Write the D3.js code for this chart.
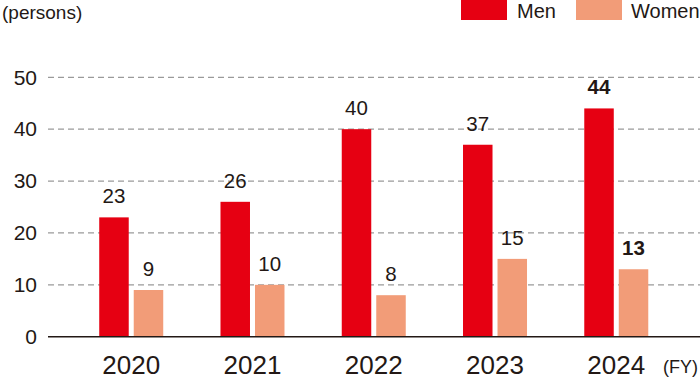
<!DOCTYPE html>
<meta charset="utf-8">
<script src="https://d3js.org/d3.v7.min.js"></script>
<style>
  body { margin: 0; background: #fff; }
  text { font-family: "Liberation Sans", Arial, sans-serif; fill: #231815; }
</style>
<div id="my_dataviz"></div>
<script>

// data
var years = ["2020", "2021", "2022", "2023", "2024"];
var men = [23, 26, 40, 37, 44];
var women = [9, 10, 8, 15, 13];
var yTicks = [0, 10, 20, 30, 40, 50];
var boldYear = "2024";

var width = 700, height = 387;

var svg = d3.select("#my_dataviz")
  .append("svg")
    .attr("width", width)
    .attr("height", height);

// scales
var x = d3.scaleBand()
  .domain(years)
  .range([70.6, 676.9])
  .paddingInner(0.5)
  .paddingOuter(0.25);

var y = d3.scaleLinear()
  .domain([0, 50])
  .range([336.7, 77.3]);

var barW = 29.5, gap = 5;

// grid lines
svg.append("g")
  .selectAll("line")
  .data(yTicks.filter(function(d) { return d > 0; }))
  .enter()
  .append("line")
    .attr("x1", 48)
    .attr("x2", 700)
    .attr("y1", function(d) { return y(d); })
    .attr("y2", function(d) { return y(d); })
    .attr("stroke", "#9a9a9a")
    .attr("stroke-width", 1.2)
    .attr("stroke-dasharray", "6,4");

// y axis labels
var yAxis = svg.append("g")
  .attr("transform", "translate(48,0)")
  .call(d3.axisLeft(y).tickValues(yTicks).tickSize(0).tickPadding(11));
yAxis.select(".domain").remove();
yAxis.selectAll("text")
  .attr("font-size", "21px")
  .attr("font-family", null)
  .attr("fill", "#231815");

function cx(d) { return x(d) + x.bandwidth() / 2; }

// bars
svg.selectAll("rect.men")
  .data(years)
  .enter()
  .append("rect")
    .attr("x", function(d) { return cx(d) - gap / 2 - barW; })
    .attr("y", function(d, i) { return y(men[i]); })
    .attr("width", barW)
    .attr("height", function(d, i) { return y(0) - y(men[i]); })
    .attr("fill", "#e60012");

svg.selectAll("rect.women")
  .data(years)
  .enter()
  .append("rect")
    .attr("x", function(d) { return cx(d) + gap / 2; })
    .attr("y", function(d, i) { return y(women[i]); })
    .attr("width", barW)
    .attr("height", function(d, i) { return y(0) - y(women[i]); })
    .attr("fill", "#f29c78");

// value labels
svg.selectAll("text.menlab")
  .data(years)
  .enter()
  .append("text")
    .attr("x", function(d) { return cx(d) - gap / 2 - barW / 2; })
    .attr("y", function(d, i) { return y(men[i]) - 14; })
    .attr("text-anchor", "middle")
    .attr("font-size", "20.5px")
    .style("font-weight", function(d) { return d == boldYear ? "bold" : "normal"; })
    .text(function(d, i) { return men[i]; });

svg.selectAll("text.womenlab")
  .data(years)
  .enter()
  .append("text")
    .attr("x", function(d) { return cx(d) + gap / 2 + barW / 2; })
    .attr("y", function(d, i) { return y(women[i]) - 14; })
    .attr("text-anchor", "middle")
    .attr("font-size", "20.5px")
    .style("font-weight", function(d) { return d == boldYear ? "bold" : "normal"; })
    .text(function(d, i) { return women[i]; });

// baseline
svg.append("line")
  .attr("x1", 48)
  .attr("x2", 700)
  .attr("y1", y(0))
  .attr("y2", y(0))
  .attr("stroke", "#231815")
  .attr("stroke-width", 1.5);

// x labels
svg.selectAll("text.year")
  .data(years)
  .enter()
  .append("text")
    .attr("x", function(d) { return cx(d); })
    .attr("y", 374)
    .attr("text-anchor", "middle")
    .attr("font-size", "26px")
    .text(function(d) { return d; });

svg.append("text")
  .attr("x", 663)
  .attr("y", 373)
  .attr("font-size", "18px")
  .text("(FY)");

svg.append("text")
  .attr("x", 2)
  .attr("y", 19)
  .attr("font-size", "19px")
  .text("(persons)");

// legend
svg.append("rect")
  .attr("x", 461).attr("y", 0)
  .attr("width", 46).attr("height", 20)
  .attr("fill", "#e60012");
svg.append("text")
  .attr("x", 517).attr("y", 18)
  .attr("font-size", "20px")
  .text("Men");
svg.append("rect")
  .attr("x", 576).attr("y", 0)
  .attr("width", 46).attr("height", 20)
  .attr("fill", "#f29c78");
svg.append("text")
  .attr("x", 631).attr("y", 18)
  .attr("font-size", "20px")
  .text("Women");

</script>
